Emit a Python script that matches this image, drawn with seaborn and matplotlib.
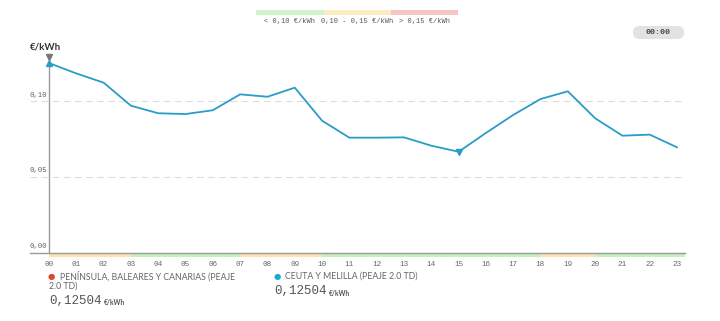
import matplotlib
matplotlib.use("Agg")
import matplotlib.pyplot as plt
import matplotlib.patches as mpatches
import matplotlib.transforms as mtransforms
import seaborn as sns
import pandas as pd

hours = [f"{h:02d}" for h in range(24)]
prices = [0.12504, 0.1182, 0.1121, 0.0969, 0.0919, 0.0914, 0.0939, 0.1044,
          0.1028, 0.1088, 0.0870, 0.0758, 0.0758, 0.0760, 0.0705, 0.0665,
          0.0789, 0.0908, 0.1013, 0.1064, 0.0886, 0.0771, 0.0778, 0.0694]
y_ticks = [0.00, 0.05, 0.10]
y_tick_labels = ["0,00", "0,05", "0,10"]
legend_labels = ["< 0,10 €/kWh", "0,10 - 0,15 €/kWh", "> 0,15 €/kWh"]
series_names = ["PENÍNSULA, BALEARES Y CANARIAS (PEAJE\n2.0 TD)",
                "CEUTA Y MELILLA (PEAJE 2.0 TD)"]
current_values = ["0,12504", "0,12504"]
thresholds = [0.10, 0.15]
unit = "€/kWh"
time_label = "00:00"

LINE = "#2a9cc8"
GREEN = "#d2f3cd"
YELLOW = "#fdecc0"
RED = "#f9c5c4"
BAND_GREEN = "#c8efc1"
BAND_YELLOW = "#fce5ad"
BAND_RED = "#f7b9b8"
GRID = "#dddddd"
AX = "#9a9a9a"
TXT = "#666666"
MONO = ["Liberation Mono", "DejaVu Sans Mono"]
SANS = ["Lato", "DejaVu Sans"]

sns.set_theme(style="white")
plt.rcParams["font.family"] = ["DejaVu Sans"]

W, H = 720, 321
fig = plt.figure(figsize=(7.2, 3.21), dpi=100)
ax = fig.add_axes([30 / W, 1 - 252.5 / H, 655 / W, 212.1 / H])

df = pd.DataFrame({"x": range(24), "price": prices})
sns.lineplot(data=df, x="x", y="price", ax=ax, color=LINE, linewidth=1.3,
             zorder=3)

ax.set_xlim(-0.696, 23.29)
ax.set_ylim(0, 0.14)
for s in ["top", "right", "left"]:
    ax.spines[s].set_visible(False)
ax.spines["bottom"].set_color(AX)
ax.spines["bottom"].set_linewidth(1.0)
ax.spines["bottom"].set_zorder(5)

# y axis line at hour 0
ax.plot([0, 0], [0, prices[0] - 0.0008], color=AX, lw=1.0, zorder=2)

# gridlines and labels above them
ylab_tr = mtransforms.blended_transform_factory(ax.transAxes, ax.transData)
for v, lab in zip(y_ticks, y_tick_labels):
    if v > 0:
        ax.axhline(v, color=GRID, lw=0.8, ls=(0, (6, 4)), zorder=1)
    ax.annotate(lab, xy=(0.0, v), xycoords=ylab_tr, xytext=(0, 4.3),
                textcoords="offset points", fontsize=5.3, family=MONO,
                color=TXT, ha="left", va="center")

ax.set_yticks([])
ax.set_xticks(range(24))
ax.set_xticklabels(hours, family=MONO, fontsize=5.5, color=TXT)
ax.tick_params(axis="x", length=0, pad=6)
ax.set_xlabel("")
ax.set_ylabel("")

# color band under axis
trans_band = mtransforms.blended_transform_factory(ax.transData, ax.transAxes)
band_h = 4.5 / 212.1
for i, p in enumerate(prices):
    c = (BAND_GREEN if p < thresholds[0]
         else (BAND_YELLOW if p < thresholds[1] else BAND_RED))
    x1 = i + 1 if i < 23 else 23.29
    ax.add_patch(mpatches.Rectangle((i, -band_h), x1 - i, band_h,
                                    transform=trans_band, facecolor=c,
                                    edgecolor="none", clip_on=False, lw=0,
                                    zorder=4))

# max / min markers
imax = prices.index(max(prices))
imin = prices.index(min(prices))
ax.plot(imax, prices[imax], marker="^", color=LINE, ms=4.5, zorder=4,
        clip_on=False)
ax.plot(imin, prices[imin], marker="v", color=LINE, ms=4.5, zorder=4)
ax.plot(0, prices[0] + 0.0042, marker="v", color="#777777", ms=4,
        zorder=4, clip_on=False)

# unit label
fig.text(30 / W, 1 - 47 / H, unit, fontsize=7, fontweight="bold",
         color="#333333", family=SANS, ha="left", va="center")

# top legend bars
bar_x = [256, 323.5, 391]
bar_w = 67.5
for x0, c, lab in zip(bar_x, [GREEN, YELLOW, RED], legend_labels):
    fig.patches.append(mpatches.Rectangle((x0 / W, 1 - 15 / H),
                                          bar_w / W, 5 / H, color=c,
                                          transform=fig.transFigure, lw=0))
    fig.text((x0 + bar_w / 2) / W, 1 - 21.5 / H, lab, fontsize=5,
             family=MONO, color="#555555", ha="center", va="center")

# time pill (pixel coordinates)
pill = mpatches.FancyBboxPatch((633, H - 39), 51, 13,
                               boxstyle="round,pad=0,rounding_size=6.5",
                               transform=mtransforms.IdentityTransform(),
                               facecolor="#e2e2e2", edgecolor="none")
fig.patches.append(pill)
fig.text(658.5 / W, 1 - 32.5 / H, time_label, fontsize=6, family=MONO,
         color="#444444", ha="center", va="center", fontweight="bold")

# bottom legend
dots = [(51.5, "#d9452f"), (277, "#1da4d8")]
name_x = [60, 285]
val_y = [300.5, 291]
val_x = [49, 274]
for (dx, dc), nx, name, val, vy, vx in zip(dots, name_x, series_names,
                                           current_values, val_y, val_x):
    fig.text(dx / W, 1 - 276.5 / H, "●", color=dc, fontsize=6,
             ha="center", va="center")
    lines = name.split("\n")
    fig.text(nx / W, 1 - 276.5 / H, lines[0], fontsize=6.3, family=SANS,
             color="#666666", ha="left", va="center")
    if len(lines) > 1:
        fig.text(49 / W, 1 - 286.5 / H, lines[1], fontsize=6.3,
                 family=SANS, color="#666666", ha="left", va="center")
    fig.text(vx / W, 1 - vy / H, val, fontsize=9.0, family=MONO,
             color="#555555", ha="left", va="center")
    fig.text((vx + 55) / W, 1 - (vy + 2) / H, unit, fontsize=4.8,
             family=SANS, color="#555555", ha="left", va="center",
             fontweight="bold")

fig.savefig("out.png", dpi=100)
